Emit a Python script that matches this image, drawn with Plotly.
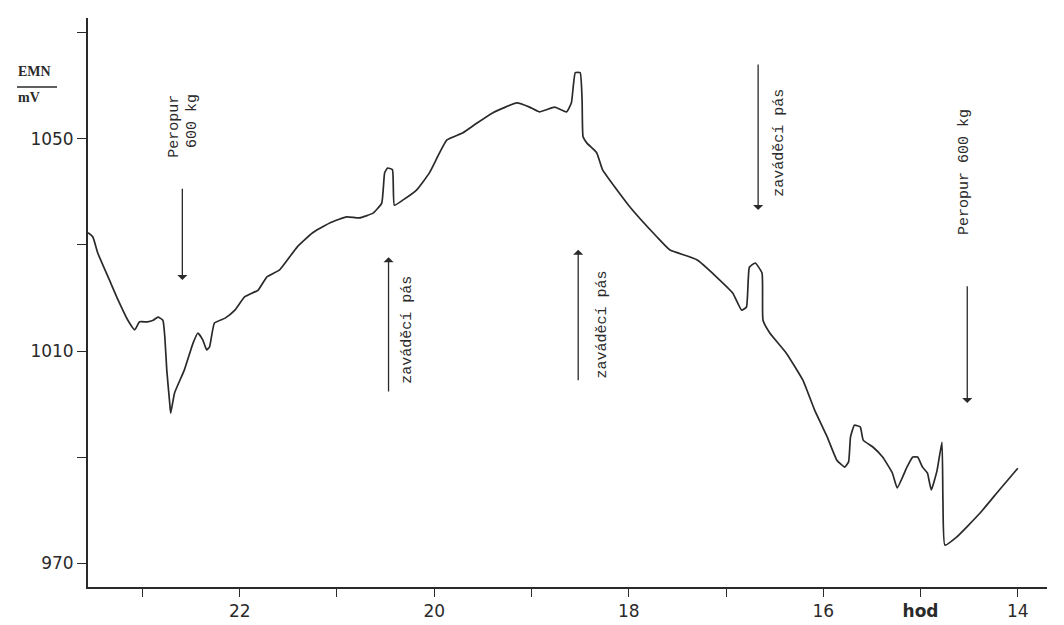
import plotly.graph_objects as go

# time (hours, axis runs from 23.5 down to 14) and EMN (mV)
hours = [23.56, 23.51, 23.46, 23.34, 23.25, 23.15, 23.08, 23.03, 22.95, 22.89,
         22.84, 22.79, 22.77, 22.75, 22.72, 22.71, 22.67, 22.57, 22.48, 22.43,
         22.38, 22.34, 22.31, 22.26, 22.15, 22.05, 21.95, 21.81, 21.72, 21.59,
         21.41, 21.25, 21.07, 20.90, 20.77, 20.63, 20.54, 20.51, 20.48, 20.43,
         20.41, 20.32, 20.18, 20.05, 19.87, 19.71, 19.56, 19.40, 19.15, 19.02,
         18.92, 18.76, 18.64, 18.59, 18.55, 18.50, 18.48, 18.47, 18.43, 18.33,
         18.27, 17.99, 17.71, 17.58, 17.30, 17.10, 16.93, 16.84, 16.79, 16.76,
         16.70, 16.63, 16.62, 16.55, 16.38, 16.21, 16.09, 15.96, 15.86, 15.78,
         15.74, 15.72, 15.68, 15.62, 15.59, 15.49, 15.39, 15.29, 15.24, 15.14,
         15.08, 15.03, 14.98, 14.93, 14.89, 14.83, 14.78, 14.77, 14.75, 14.63,
         14.39, 14.19, 14.00]
emn = [1032.3, 1031.5, 1028.5, 1023.4, 1019.6, 1015.8, 1014.0, 1015.5, 1015.5, 1015.8,
       1016.4, 1015.8, 1012.6, 1006.4, 1000.2, 998.3, 1002.1, 1006.4, 1011.5, 1013.4,
       1012.1, 1010.2, 1010.8, 1015.3, 1016.2, 1017.7, 1020.2, 1021.5, 1024.0, 1025.3,
       1029.6, 1032.3, 1034.2, 1035.3, 1035.1, 1036.0, 1037.9, 1043.6, 1044.5, 1044.2,
       1037.5, 1038.5, 1040.4, 1043.6, 1049.8, 1051.1, 1053.0, 1054.9, 1056.8, 1056.0,
       1055.1, 1056.0, 1055.1, 1056.8, 1062.5, 1062.5, 1057.4, 1050.4, 1049.2, 1047.4,
       1044.2, 1037.2, 1031.5, 1029.1, 1027.2, 1024.0, 1020.9, 1017.7, 1018.3, 1025.8,
       1026.6, 1024.7, 1015.8, 1013.4, 1009.6, 1004.5, 998.9, 993.8, 989.4, 988.1,
       989.1, 993.8, 996.0, 995.7, 993.2, 991.9, 990.0, 987.0, 984.2, 988.1,
       990.0, 990.0, 988.1, 987.0, 983.8, 987.5, 992.8, 981.9, 973.4, 974.9,
       979.4, 983.8, 987.9]

x_tick_vals = [23, 22, 21, 20, 19, 18, 17, 16, 15, 14]
x_tick_text = ["", "22", "", "20", "", "18", "", "16", "<b>hod</b>", "14"]
y_tick_vals = [970, 990, 1010, 1030, 1050, 1070]
y_tick_text = ["970", "", "1010", "", "1050", ""]

# event arrows (time, tail value, head value)
arrow_x = [22.59, 20.47, 18.52, 16.67, 14.52]
arrow_tail_y = [1040.9, 1002.1, 1004.2, 1064.3, 1022.5]
arrow_head_y = [1023.4, 1027.7, 1029.1, 1036.6, 1000.2]

# event labels (vertical text)
label_text = ["Peropur", "600 kg", "zaváděcí pás", "zaváděcí pás", "zaváděcí pás", "Peropur 600 kg"]
label_x = [22.67, 22.48, 20.27, 18.27, 16.45, 14.55]
label_y = [1052.4, 1053.4, 1014.0, 1014.9, 1049.2, 1043.8]

ink = "#2a2a2a"
fig = go.Figure()
fig.add_trace(go.Scatter(x=hours, y=emn, mode="lines",
                         line=dict(color=ink, width=1.7, shape="spline", smoothing=0.4),
                         hoverinfo="skip", showlegend=False))

annotations = []
for ax_, ty, hy in zip(arrow_x, arrow_tail_y, arrow_head_y):
    annotations.append(dict(x=ax_, y=hy, ax=ax_, ay=ty, xref="x", yref="y",
                            axref="x", ayref="y", text="", showarrow=True,
                            arrowhead=1, arrowsize=1.3, arrowwidth=1.3, arrowcolor=ink))
for lab, tx, tyy in zip(label_text, label_x, label_y):
    annotations.append(dict(x=tx, y=tyy, xref="x", yref="y", text=lab, showarrow=False,
                            textangle=-90,
                            font=dict(family="Liberation Mono", size=15, color=ink)))

L, R, T, B = 88, 17, 18, 38
W, H = 1064, 625
pw, ph = W - L - R, H - T - B


def px2paper(px, py):
    return (px - L) / pw, (H - B - py) / ph


# y-axis unit label (fraction EMN / mV)
ex, ey = px2paper(16, 72)
mx, my = px2paper(16, 98)
annotations.append(dict(x=ex, y=ey, xref="paper", yref="paper", text="<b>EMN</b>",
                        showarrow=False, xanchor="left", yanchor="middle",
                        font=dict(family="Liberation Serif", size=14, color=ink)))
annotations.append(dict(x=mx, y=my, xref="paper", yref="paper", text="<b>mV</b>",
                        showarrow=False, xanchor="left", yanchor="middle",
                        font=dict(family="Liberation Serif", size=14, color=ink)))

lx0, ly = px2paper(17, 87)
lx1, _ = px2paper(57, 87)

fig.update_layout(
    width=W, height=H,
    margin=dict(l=L, r=R, t=T, b=B),
    paper_bgcolor="white", plot_bgcolor="white",
    annotations=annotations,
    shapes=[dict(type="line", xref="paper", yref="paper", x0=lx0, x1=lx1, y0=ly, y1=ly,
                 line=dict(color=ink, width=1.5))],
    xaxis=dict(range=[23.56, 13.70], tickvals=x_tick_vals, ticktext=x_tick_text,
               ticks="outside", ticklen=8, tickcolor=ink, tickwidth=1.4,
               ticklabelstandoff=0, automargin=False,
               showline=True, linecolor=ink, linewidth=1.8, showgrid=False, zeroline=False,
               tickfont=dict(family="DejaVu Sans", size=17, color=ink)),
    yaxis=dict(range=[965.5, 1072.8], tickvals=y_tick_vals, ticktext=y_tick_text,
               ticks="outside", ticklen=9, tickcolor=ink, tickwidth=1.4, automargin=False,
               showline=True, linecolor=ink, linewidth=1.8, showgrid=False, zeroline=False,
               tickfont=dict(family="DejaVu Sans", size=17, color=ink)),
)

fig.write_html("out.html")
